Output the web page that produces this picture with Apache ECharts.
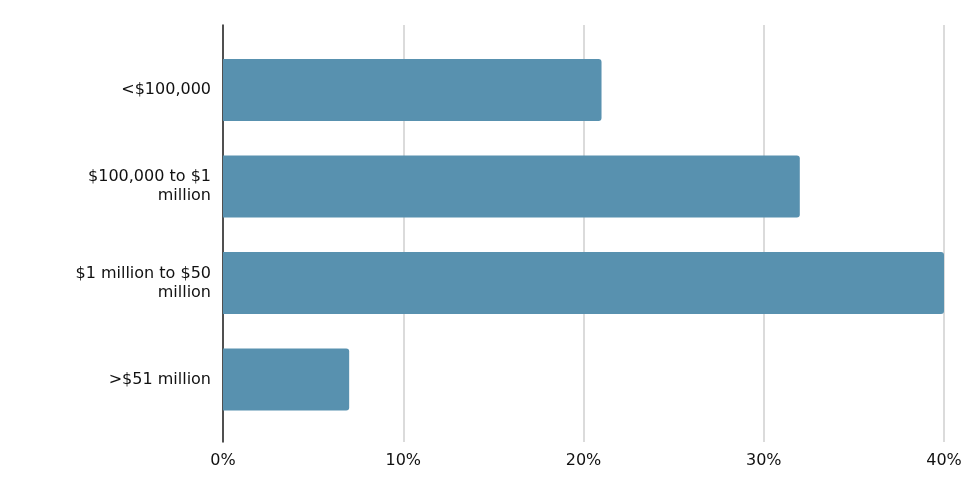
<!DOCTYPE html>
<html>
<head>
<meta charset="utf-8">
<script src="https://cdn.jsdelivr.net/npm/echarts@6/dist/echarts.min.js"></script>
<style>html,body{margin:0;padding:0;background:#fff}#c{width:974px;height:493px}</style>
</head>
<body>
<div id="c"></div>
<script>
const categories = ['<$100,000', '$100,000 to $1 million', '$1 million to $50 million', '>$51 million'];
const values = [21, 32, 40, 7];
const xTicks = [0, 10, 20, 30, 40];

const FONT = 'DejaVu Sans, Verdana, sans-serif';
const FONT_SIZE = 16;
const WRAP_WIDTH = 145;

const measureCtx = document.createElement('canvas').getContext('2d');
measureCtx.font = FONT_SIZE + 'px ' + FONT;
function wrapLabel(text) {
  const words = text.split(' ');
  const lines = [];
  let cur = '';
  words.forEach(w => {
    const trial = cur ? cur + ' ' + w : w;
    if (cur && measureCtx.measureText(trial).width > WRAP_WIDTH) {
      lines.push(cur);
      cur = w;
    } else {
      cur = trial;
    }
  });
  if (cur) lines.push(cur);
  return lines.join('\n');
}

const chart = echarts.init(document.getElementById('c'), null, {renderer: 'canvas'});
chart.setOption({
  animation: false,
  grid: [
    {left: 223, right: 30, top: 25, bottom: 51, containLabel: false},
    {left: 223, right: 30, top: 41.75, bottom: 65.25, containLabel: false}
  ],
  xAxis: [{
    gridIndex: 0, type: 'value', min: xTicks[0], max: xTicks[xTicks.length - 1], interval: 10,
    axisLine: {show: false}, axisTick: {show: false},
    splitLine: {show: true, lineStyle: {color: '#cfcfcf', width: 1.5}},
    axisLabel: {formatter: v => v + '%', color: '#111', fontSize: FONT_SIZE, fontFamily: FONT, margin: 11}
  }, {
    gridIndex: 1, type: 'value', min: xTicks[0], max: xTicks[xTicks.length - 1], interval: 10,
    show: false
  }],
  yAxis: [{
    gridIndex: 0, type: 'value', min: 0, max: 1,
    axisLine: {show: true, lineStyle: {color: '#222', width: 1.5}},
    axisTick: {show: false}, axisLabel: {show: false}, splitLine: {show: false}
  }, {
    gridIndex: 1, type: 'category', data: categories, inverse: true,
    axisLine: {show: false}, axisTick: {show: false}, splitLine: {show: false},
    axisLabel: {color: '#111', fontSize: FONT_SIZE, fontFamily: FONT, margin: 12,
      lineHeight: 19, align: 'right', formatter: wrapLabel}
  }],
  series: [{
    type: 'bar', xAxisIndex: 1, yAxisIndex: 1, data: values, barWidth: 62,
    itemStyle: {color: '#5891af', borderRadius: [0, 3, 3, 0]}
  }]
});
</script>
</body>
</html>
